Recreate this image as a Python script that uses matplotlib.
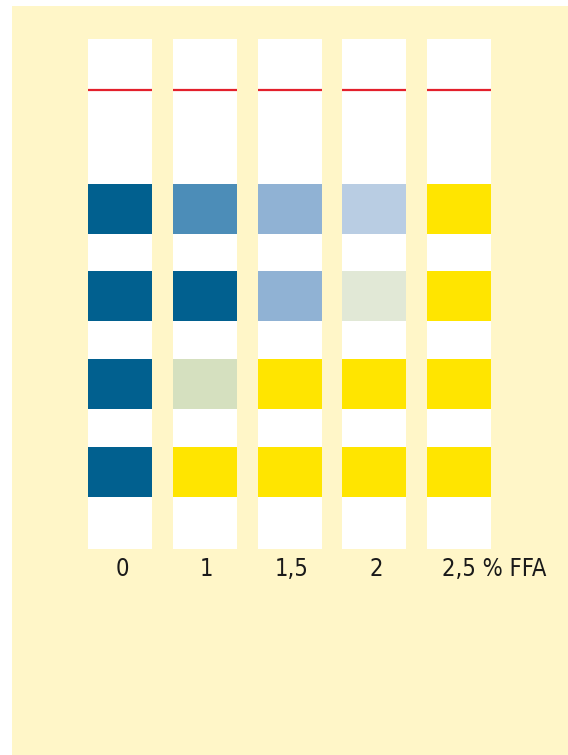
import numpy as np
import matplotlib
matplotlib.use("Agg")
import matplotlib.pyplot as plt

# FFA levels (strip labels) and pad colours, top pad first
levels = ["0", "1", "1,5", "2", "2,5 % FFA"]
dark = "#01608F"
pad_colors = [
    [dark, dark, dark, dark],
    ["#4C8DB8", dark, "#D5E0BF", "#FFE500"],
    ["#90B2D4", "#90B2D4", "#FFE500", "#FFE500"],
    ["#B9CDE3", "#E1E8D6", "#FFE500", "#FFE500"],
    ["#FFE500", "#FFE500", "#FFE500", "#FFE500"],
]

bg = "#FFF6C8"
fig = plt.figure(figsize=(5.68, 7.55), dpi=100)
fig.patch.set_facecolor("white")
ax = fig.add_axes([0, 0, 1, 1])
ax.set_xlim(0, 568)
ax.set_ylim(755, 0)
ax.axis("off")

# yellow panel
ax.add_patch(plt.Rectangle((12, 6), 556, 749, color=bg, lw=0))

x0, step, w = 120, 84.8, 64
xs = x0 + step * np.arange(len(levels))
strip_top, strip_bot = 39, 549
pad_top = [184, 271, 359, 447]
pad_h = 50

# white strips
ax.bar(xs, strip_bot - strip_top, width=w, bottom=strip_top, color="white", lw=0)
# red reference line
for x in xs:
    ax.plot([x - w / 2, x + w / 2], [90, 90], color="#E3202C", lw=1.6,
            solid_capstyle="butt")
# pads
for i, cols in enumerate(pad_colors):
    ax.bar([xs[i]] * 4, pad_h, width=w, bottom=pad_top, color=cols, lw=0)

for i, lab in enumerate(levels):
    kw = dict(va="center", fontsize=17, family="DejaVu Sans",
              stretch="condensed", color="#1a1a1a")
    if i == len(levels) - 1:
        ax.text(442, 569, lab, ha="left", **kw)
    else:
        ax.text(xs[i] + 2, 569, lab, ha="center", **kw)

fig.savefig("out.png", dpi=100, facecolor=fig.get_facecolor())
